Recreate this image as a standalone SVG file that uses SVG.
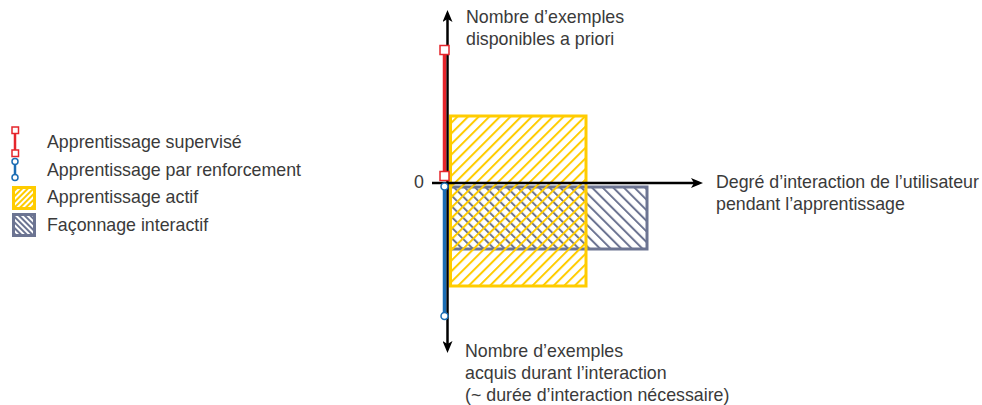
<svg xmlns="http://www.w3.org/2000/svg" width="982" height="405" viewBox="0 0 982 405">
<style>
text{font-family:"Liberation Sans",Arial,sans-serif;font-size:17.8px;fill:#3a3a3a;}
.ax{stroke:#000;stroke-width:2.5;fill:none;}
.red{stroke:#E5262C;stroke-width:3.5;fill:none;}
.blue{stroke:#1B6DB4;stroke-width:3.5;fill:none;}
.rsq{fill:#fff;stroke:#E5262C;stroke-width:1.5;}
.bci{fill:#fff;stroke:#1B6DB4;stroke-width:1.5;}
.yel{fill:url(#hy);stroke:#FFCC00;stroke-width:3;}
.gry{fill:url(#hg);stroke:#6C7492;stroke-width:3;}
</style>
<defs>
<pattern id="hy" patternUnits="userSpaceOnUse" width="7.5" height="7.5" patternTransform="rotate(45)"><line x1="1" y1="0" x2="1" y2="7.5" stroke="#FFCC00" stroke-width="2"/></pattern>
<pattern id="hg" patternUnits="userSpaceOnUse" width="7.5" height="7.5" patternTransform="rotate(-45)"><line x1="1" y1="0" x2="1" y2="7.5" stroke="#6C7492" stroke-width="2"/></pattern>
<pattern id="hyl" patternUnits="userSpaceOnUse" width="4" height="4" patternTransform="rotate(45)"><rect x="0" y="0" width="2" height="4" fill="#FFCC00"/></pattern>
<pattern id="hgl" patternUnits="userSpaceOnUse" width="4" height="4" patternTransform="rotate(-45)"><rect x="0" y="0" width="2" height="4" fill="#6C7492"/></pattern>
<marker id="arr" viewBox="0 0 12 10" refX="8" refY="5" markerWidth="12" markerHeight="10" markerUnits="userSpaceOnUse" orient="auto-start-reverse"><path d="M0,0 L12,5 L0,10 L3,5 z" fill="#000"/></marker>
</defs>

<g id="legend">
<g id="legend-supervise">
<line x1="15" y1="130" x2="15" y2="153" stroke="#E5262C" stroke-width="2.5"/>
<rect x="12" y="127" width="6.5" height="6.5" class="rsq"/>
<rect x="12" y="150" width="6.5" height="6.5" class="rsq"/>
<text x="47" y="148">Apprentissage supervisé</text>
</g>
<g id="legend-renforcement">
<line x1="15" y1="162" x2="15" y2="177" stroke="#1B6DB4" stroke-width="2.5"/>
<circle cx="15" cy="161.5" r="3" class="bci"/>
<circle cx="15" cy="177.5" r="3" class="bci"/>
<text x="47" y="175.5">Apprentissage par renforcement</text>
</g>
<g id="legend-actif">
<rect x="13.5" y="187.5" width="21" height="21" fill="url(#hyl)" stroke="#FFCC00" stroke-width="3"/>
<text x="47" y="203">Apprentissage actif</text>
</g>
<g id="legend-faconnage">
<rect x="13.5" y="214.5" width="21" height="21" fill="url(#hgl)" stroke="#6C7492" stroke-width="3"/>
<text x="47" y="230.5">Façonnage interactif</text>
</g>
</g>

<g id="faconnage">
<rect x="450" y="187" width="197" height="62" class="gry"/>
</g>
<g id="actif">
<rect x="450.5" y="116" width="135.5" height="170" class="yel"/>
</g>

<g id="connectors">
<line x1="447.5" y1="349" x2="447.5" y2="14" class="ax" marker-start="url(#arr)" marker-end="url(#arr)"/>
<line x1="432" y1="183" x2="699" y2="183" class="ax" marker-end="url(#arr)"/>
</g>

<g id="supervise">
<line x1="444.5" y1="50" x2="444.5" y2="176" class="red"/>
<rect x="440" y="45.5" width="9" height="9" class="rsq"/>
<rect x="440" y="171.5" width="9" height="9" class="rsq"/>
</g>
<g id="renforcement">
<line x1="444.5" y1="187" x2="444.5" y2="316" class="blue"/>
<circle cx="444.5" cy="186.5" r="3.5" class="bci"/>
<circle cx="444.5" cy="316" r="3.5" class="bci"/>
</g>

<g id="labels">
<text x="414" y="187.5">0</text>
<text x="466" y="23">Nombre d’exemples</text>
<text x="466" y="45">disponibles a priori</text>
<text x="716" y="188">Degré d’interaction de l’utilisateur</text>
<text x="716" y="210">pendant l’apprentissage</text>
<text x="465" y="357">Nombre d’exemples</text>
<text x="465" y="379">acquis durant l’interaction</text>
<text x="465" y="401">(~ durée d’interaction nécessaire)</text>
</g>
</svg>
